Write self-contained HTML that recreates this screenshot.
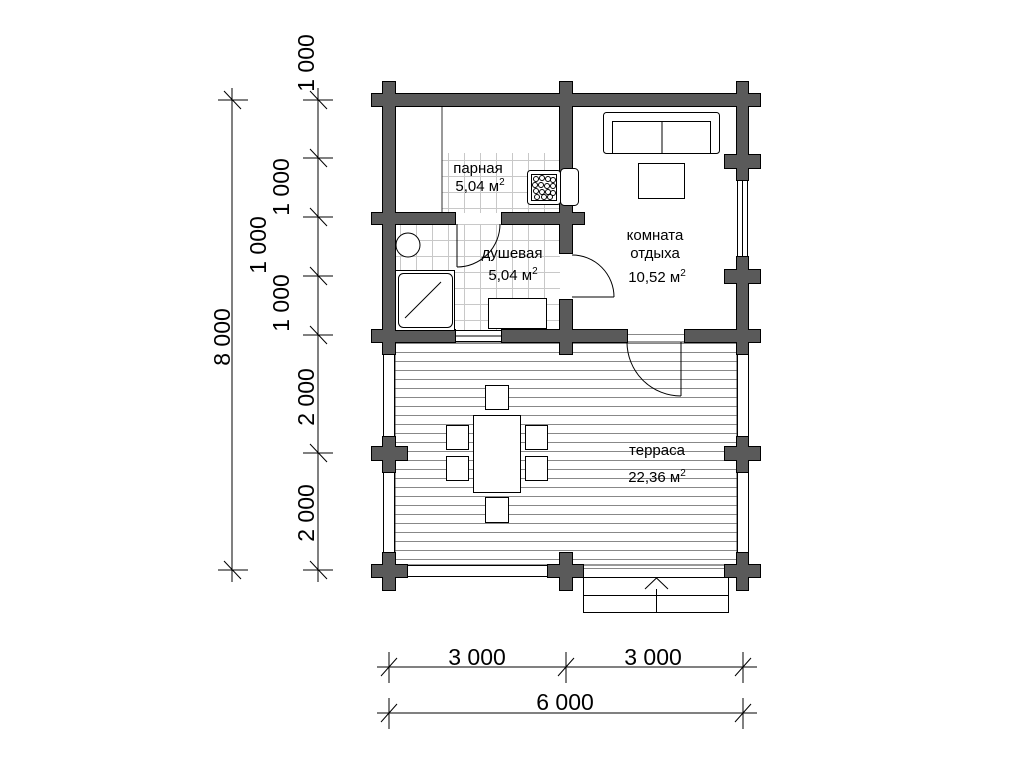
<!DOCTYPE html>
<html><head><meta charset="utf-8"><style>
html,body{margin:0;padding:0;background:#fff;}
svg{display:block;}
text{font-family:"Liberation Sans",sans-serif;fill:#000;}
</style></head><body>
<svg width="1011" height="758" viewBox="0 0 1011 758" xmlns="http://www.w3.org/2000/svg">
<defs>
<pattern id="tile" x="0" y="0" width="16" height="16" patternUnits="userSpaceOnUse">
<rect width="16" height="16" fill="#fff"/>
<path d="M0 0.5H16M0.5 0V16" stroke="#c8c8c8" stroke-width="1"/>
</pattern>
<pattern id="deck" x="0" y="343" width="10" height="9" patternUnits="userSpaceOnUse">
<rect width="10" height="9" fill="#fff"/>
<path d="M0 0.5H10" stroke="#888" stroke-width="1"/>
</pattern>
</defs>

<rect x="442" y="153" width="118" height="60" fill="url(#tile)"/>
<rect x="395" y="224" width="165" height="106" fill="url(#tile)"/>
<line x1="442" y1="106" x2="442" y2="213" stroke="#333" stroke-width="1"/>
<rect x="395" y="342" width="342" height="223" fill="url(#deck)"/>
<rect x="627" y="330" width="58" height="12" fill="url(#deck)"/>
<rect x="583" y="565" width="145" height="12" fill="url(#deck)"/>
<rect x="395" y="342" width="342" height="223" fill="none" stroke="#333" stroke-width="1"/>

<rect x="383.5" y="342" width="11" height="223" fill="#fff" stroke="#000"/>
<rect x="737.5" y="342" width="11" height="223" fill="#fff" stroke="#000"/>
<rect x="407" y="565.5" width="141" height="11" fill="#fff" stroke="#000"/>

<rect x="737.5" y="180" width="10" height="77" fill="#fff" stroke="#000"/>
<line x1="742.5" y1="180" x2="742.5" y2="257" stroke="#000"/>
<rect x="455" y="330.5" width="47" height="11" fill="#fff" stroke="#000"/>
<line x1="455" y1="336" x2="502" y2="336" stroke="#000"/>

<g fill="#000" stroke="#000" stroke-width="2">
<rect x="372" y="94" width="388" height="12"/>
<rect x="383" y="82" width="12" height="272"/>
<rect x="560" y="82" width="12" height="171"/>
<rect x="560" y="300" width="12" height="54"/>
<rect x="737" y="82" width="11" height="98"/>
<rect x="737" y="257" width="11" height="97"/>
<rect x="725" y="155" width="35" height="13"/>
<rect x="725" y="270" width="35" height="13"/>
<rect x="372" y="213" width="83" height="11"/>
<rect x="502" y="213" width="82" height="11"/>
<rect x="372" y="330" width="83" height="12"/>
<rect x="502" y="330" width="125" height="12"/>
<rect x="685" y="330" width="75" height="12"/>
<rect x="383" y="437" width="12" height="35"/><rect x="372" y="447" width="35" height="13"/>
<rect x="737" y="437" width="11" height="35"/><rect x="725" y="447" width="35" height="13"/>
<rect x="383" y="553" width="12" height="37"/><rect x="372" y="565" width="35" height="12"/>
<rect x="560" y="553" width="12" height="37"/><rect x="548" y="565" width="35" height="12"/>
<rect x="737" y="553" width="11" height="37"/><rect x="725" y="565" width="35" height="12"/>
</g>
<g fill="#5a5a5a">
<rect x="372" y="94" width="388" height="12"/>
<rect x="383" y="82" width="12" height="272"/>
<rect x="560" y="82" width="12" height="171"/>
<rect x="560" y="300" width="12" height="54"/>
<rect x="737" y="82" width="11" height="98"/>
<rect x="737" y="257" width="11" height="97"/>
<rect x="725" y="155" width="35" height="13"/>
<rect x="725" y="270" width="35" height="13"/>
<rect x="372" y="213" width="83" height="11"/>
<rect x="502" y="213" width="82" height="11"/>
<rect x="372" y="330" width="83" height="12"/>
<rect x="502" y="330" width="125" height="12"/>
<rect x="685" y="330" width="75" height="12"/>
<rect x="383" y="437" width="12" height="35"/><rect x="372" y="447" width="35" height="13"/>
<rect x="737" y="437" width="11" height="35"/><rect x="725" y="447" width="35" height="13"/>
<rect x="383" y="553" width="12" height="37"/><rect x="372" y="565" width="35" height="12"/>
<rect x="560" y="553" width="12" height="37"/><rect x="548" y="565" width="35" height="12"/>
<rect x="737" y="553" width="11" height="37"/><rect x="725" y="565" width="35" height="12"/>
</g>

<g fill="none" stroke="#000" stroke-width="1">
<line x1="457" y1="224" x2="457" y2="267"/>
<path d="M457 267 A43 43 0 0 0 500 224"/>
<line x1="572" y1="297" x2="614" y2="297"/>
<path d="M614 297 A42 42 0 0 0 572 255"/>
<line x1="681" y1="342" x2="681" y2="396"/>
<path d="M627 342 A54 54 0 0 0 681 396"/>
</g>

<g fill="#fff" stroke="#000" stroke-width="1">
<rect x="603.5" y="112.5" width="116" height="41" rx="3"/>
<rect x="612.5" y="121.5" width="98" height="32"/>
<line x1="662" y1="121" x2="662" y2="153"/>
<rect x="638.5" y="163.5" width="46" height="35"/>
<rect x="560.5" y="168.5" width="18" height="37" rx="4"/>
<rect x="527.5" y="170.5" width="33" height="34" rx="3"/>
<rect x="531.5" y="174.5" width="25" height="26" fill="#fff"/>
<circle cx="408" cy="245" r="12"/>
<rect x="395.5" y="270.5" width="59" height="60"/>
<rect x="398.5" y="273.5" width="54" height="54" rx="5"/>
<line x1="405" y1="318" x2="441" y2="282"/>
<rect x="488.5" y="298.5" width="58" height="30"/>
<rect x="485.5" y="385.5" width="23" height="24"/>
<rect x="473.5" y="415.5" width="47" height="77"/>
<rect x="446.5" y="425.5" width="22" height="24"/>
<rect x="446.5" y="456.5" width="22" height="24"/>
<rect x="525.5" y="425.5" width="22" height="24"/>
<rect x="525.5" y="456.5" width="22" height="24"/>
<rect x="485.5" y="497.5" width="23" height="25"/>
<rect x="583.5" y="577.5" width="145" height="35"/>
<line x1="583" y1="595.5" x2="728" y2="595.5"/>
<line x1="656.5" y1="577" x2="656.5" y2="612"/>
<polyline points="645,589 656.5,578 668,589"/>
</g>
<g fill="#fff" stroke="#000" stroke-width="1">
<circle cx="536" cy="179" r="2.5"/><circle cx="542" cy="178" r="2.5"/><circle cx="548" cy="179" r="2.5"/><circle cx="553" cy="180" r="2.5"/>
<circle cx="535" cy="185" r="2.5"/><circle cx="541" cy="185" r="2.5"/><circle cx="547" cy="186" r="2.5"/><circle cx="553" cy="186" r="2.5"/>
<circle cx="536" cy="191" r="2.5"/><circle cx="542" cy="192" r="2.5"/><circle cx="548" cy="192" r="2.5"/><circle cx="553" cy="193" r="2.5"/>
<circle cx="537" cy="197" r="2.5"/><circle cx="544" cy="197" r="2.5"/><circle cx="550" cy="197" r="2.5"/>
</g>

<g font-size="15" text-anchor="middle">
<text x="478" y="173">парная</text>
<text x="480" y="191">5,04 м<tspan font-size="10" dy="-6">2</tspan></text>
<text x="512" y="258">душевая</text>
<text x="513" y="280">5,04 м<tspan font-size="10" dy="-6">2</tspan></text>
<text x="655" y="240">комната</text>
<text x="655" y="258">отдыха</text>
<text x="657" y="282">10,52 м<tspan font-size="10" dy="-6">2</tspan></text>
<text x="657" y="455">терраса</text>
<text x="657" y="482">22,36 м<tspan font-size="10" dy="-6">2</tspan></text>
</g>

<g stroke="#000" stroke-width="1" fill="none">
<line x1="232" y1="88" x2="232" y2="582"/>
<line x1="218" y1="100" x2="248" y2="100"/><line x1="224" y1="91" x2="241" y2="109"/>
<line x1="218" y1="570" x2="248" y2="570"/><line x1="224" y1="561" x2="241" y2="579"/>
<line x1="318" y1="88" x2="318" y2="582"/>
<line x1="303" y1="100" x2="333" y2="100"/><line x1="310" y1="91" x2="327" y2="109"/>
<line x1="303" y1="158" x2="333" y2="158"/><line x1="310" y1="149" x2="327" y2="167"/>
<line x1="303" y1="217" x2="333" y2="217"/><line x1="310" y1="208" x2="327" y2="226"/>
<line x1="303" y1="276" x2="333" y2="276"/><line x1="310" y1="267" x2="327" y2="285"/>
<line x1="303" y1="335" x2="333" y2="335"/><line x1="310" y1="326" x2="327" y2="344"/>
<line x1="303" y1="453" x2="333" y2="453"/><line x1="310" y1="444" x2="327" y2="462"/>
<line x1="303" y1="570" x2="333" y2="570"/><line x1="310" y1="561" x2="327" y2="579"/>
<line x1="377" y1="667" x2="757" y2="667"/>
<line x1="389" y1="652" x2="389" y2="683"/><line x1="381" y1="676" x2="397" y2="658"/>
<line x1="566" y1="652" x2="566" y2="683"/><line x1="558" y1="676" x2="574" y2="658"/>
<line x1="743" y1="652" x2="743" y2="683"/><line x1="735" y1="676" x2="751" y2="658"/>
<line x1="377" y1="713" x2="757" y2="713"/>
<line x1="389" y1="698" x2="389" y2="729"/><line x1="381" y1="722" x2="397" y2="704"/>
<line x1="743" y1="698" x2="743" y2="729"/><line x1="735" y1="722" x2="751" y2="704"/>
</g>
<g font-size="23" text-anchor="middle">
<text x="477" y="665">3 000</text>
<text x="653" y="665">3 000</text>
<text x="565" y="710">6 000</text>
<text transform="translate(314,63) rotate(-90)">1 000</text>
<text transform="translate(289,187) rotate(-90)">1 000</text>
<text transform="translate(266,245) rotate(-90)">1 000</text>
<text transform="translate(289,303) rotate(-90)">1 000</text>
<text transform="translate(314,397) rotate(-90)">2 000</text>
<text transform="translate(314,513) rotate(-90)">2 000</text>
<text transform="translate(230,337) rotate(-90)">8 000</text>
</g>
</svg>
</body></html>
